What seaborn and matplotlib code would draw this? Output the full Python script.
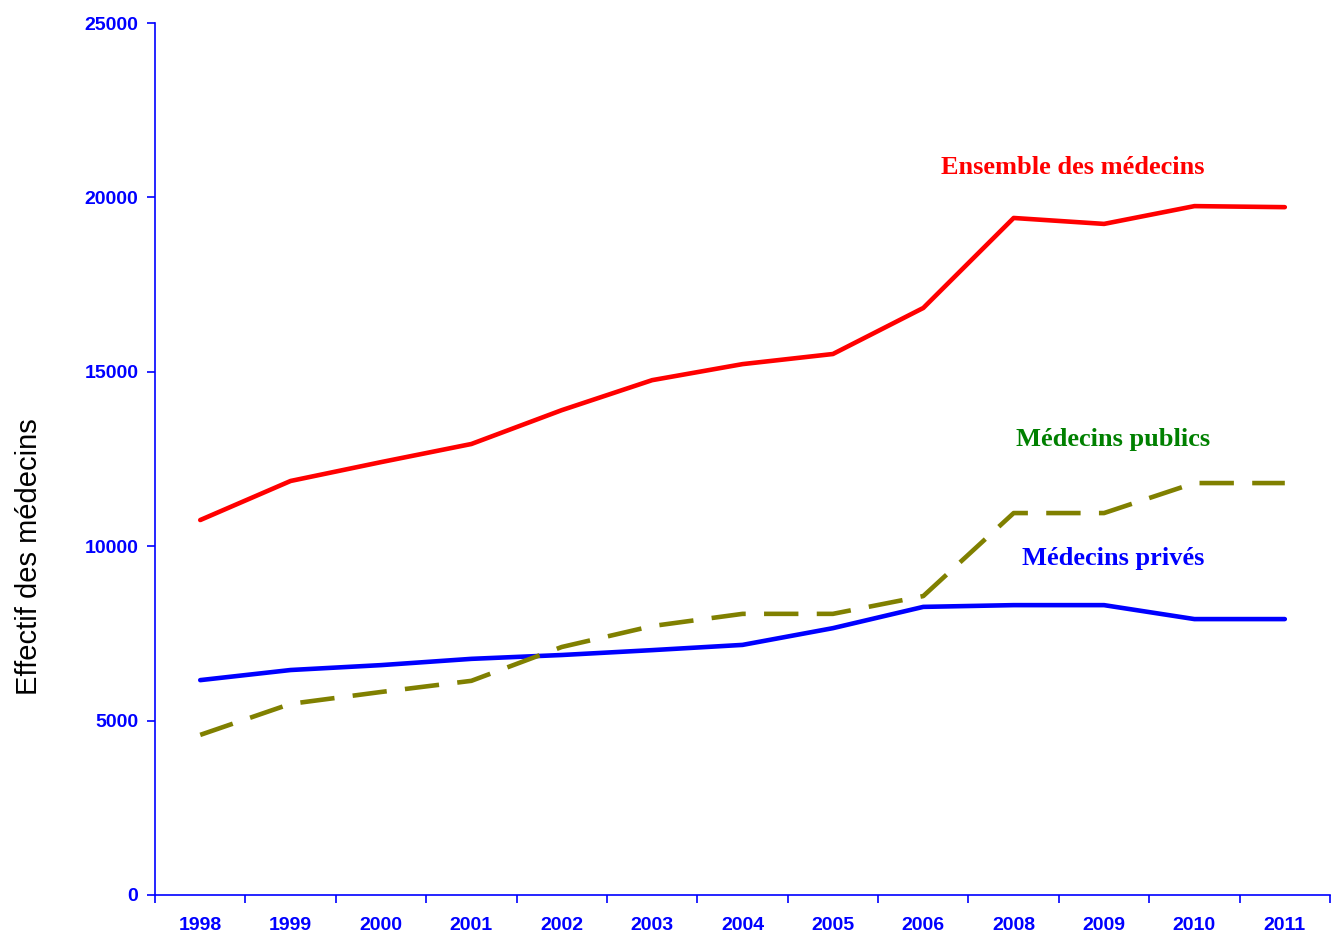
import numpy as np
import pandas as pd
import seaborn as sns
import matplotlib.pyplot as plt
from matplotlib.ticker import FixedLocator

years = ['1998', '1999', '2000', '2001', '2002', '2003', '2004',
         '2005', '2006', '2008', '2009', '2010', '2011']
ensemble = [10750, 11870, 12410, 12930, 13900, 14760, 15220,
            15510, 16830, 19410, 19240, 19750, 19720]
publics = [4590, 5480, 5820, 6140, 7110, 7710, 8060,
           8060, 8570, 10950, 10950, 11810, 11810]
prives = [6160, 6450, 6590, 6770, 6880, 7020, 7170,
          7650, 8260, 8310, 8310, 7910, 7910]
y_ticks = [0, 5000, 10000, 15000, 20000, 25000]

axis_blue = '#0000FF'

df = pd.DataFrame({'annee': years,
                   'Ensemble des médecins': ensemble,
                   'Médecins publics': publics,
                   'Médecins privés': prives})

sns.set_style('white')
plt.rcParams['font.family'] = ['Liberation Sans', 'DejaVu Sans']

fig = plt.figure(figsize=(13.32, 9.35), dpi=100)
ax = fig.add_axes([0.1164, 0.0428, 0.8821, 0.9326])

sns.lineplot(data=df, x='annee', y='Ensemble des médecins', color='#FF0000',
             linewidth=3.3, ax=ax, sort=False)
sns.lineplot(data=df, x='annee', y='Médecins privés', color='#0000FF',
             linewidth=3.3, ax=ax, sort=False)
sns.lineplot(data=df, x='annee', y='Médecins publics', color='#808000',
             linewidth=3.3, ax=ax, sort=False)
ax.lines[-1].set_dashes((7.5, 4))
for ln in ax.lines:
    ln.set_solid_capstyle('round')
    ln.set_solid_joinstyle('round')

ax.set_xlim(-0.5, len(years) - 0.5)
ax.set_ylim(0, 25000)
ax.set_yticks(y_ticks)
ax.set_yticklabels([str(v) for v in y_ticks])
ax.set_xticks(range(len(years)))
ax.set_xticklabels(years)
ax.xaxis.set_minor_locator(FixedLocator(np.arange(-0.5, len(years), 1.0)))

ax.tick_params(axis='x', which='major', length=0, pad=16, labelsize=14,
               labelcolor=axis_blue)
ax.tick_params(axis='x', which='minor', length=6, width=1.2, color=axis_blue,
               direction='out', bottom=True)
ax.tick_params(axis='y', length=6, width=1.2, color=axis_blue, direction='out',
               left=True, labelsize=14, labelcolor=axis_blue, pad=6)
for lab in ax.get_xticklabels() + ax.get_yticklabels():
    lab.set_fontweight('bold')

for side in ['top', 'right']:
    ax.spines[side].set_visible(False)
for side in ['left', 'bottom']:
    ax.spines[side].set_color(axis_blue)
    ax.spines[side].set_linewidth(1.2)

ax.set_xlabel('')
ax.set_ylabel('Effectif des médecins', fontsize=21, color='black')
ax.yaxis.set_label_coords(-0.095, 0.388)

serif = ['Liberation Serif', 'DejaVu Serif']
ax.text(9.65, 20850, 'Ensemble des médecins', color='#FF0000', fontsize=19,
        fontweight='bold', family=serif, ha='center', va='center')
ax.text(10.1, 13050, 'Médecins publics', color='#008000', fontsize=19,
        fontweight='bold', family=serif, ha='center', va='center')
ax.text(10.1, 9650, 'Médecins privés', color='#0000FF', fontsize=19,
        fontweight='bold', family=serif, ha='center', va='center')

plt.savefig('out.png', dpi=100)
